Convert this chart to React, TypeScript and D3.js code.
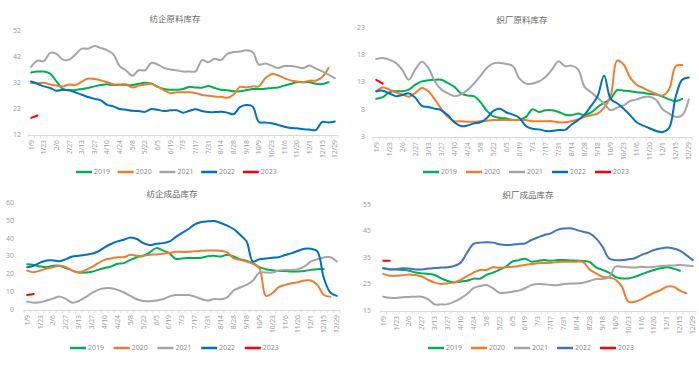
import * as d3 from 'd3';

// weekly dates (holiday weeks missing)
const cats = ["1/9","1/16","1/23","1/30","2/6","2/20","2/27","3/6","3/13","3/20","3/27","4/3","4/10","4/17","4/24","5/1","5/8","5/15","5/22","5/29","6/5","6/12","6/19","6/26","7/3","7/10","7/17","7/24","7/31","8/7","8/14","8/21","8/28","9/4","9/18","9/25","10/9","10/16","10/23","10/30","11/6","11/13","11/20","11/27","12/1","12/8","12/15","12/22","12/29"];
const years = ["2019", "2020", "2021", "2022", "2023"];

// 纺企原料库存
const p1_2019 = [36,36.4,36.4,35.6,32.6,29.7,29.2,29.3,29.7,30.1,30.7,31.2,31.5,31.2,31.3,31.2,31.2,31.7,32.1,31.7,30.5,29.7,29.4,29.4,29.7,30.5,30.3,30.2,30.8,30.1,29.4,29.2,28.8,28.8,29.2,29.7,29.7,29.8,30.1,30.3,31,31.6,32.3,32.3,32.3,31.7,31.6,32.3];
const p1_2020 = [32,31.9,32.1,31.4,31,30.7,31.4,31.2,32.5,33.7,33.5,33,32.3,31.5,31.4,31.5,30.3,31,31.4,31.7,30.5,29.2,28.1,28.4,28.4,28.4,28.1,27.4,27.1,26.8,26.7,26.3,27.6,30.5,30.3,30.7,30.7,33.8,35.4,35,33.9,33,32.6,32.3,32.9,32.9,34.3,37.8];
const p1_2021 = [38.2,40.6,40.4,43.6,43.2,41,41,43,45.2,45.2,46.2,45.5,44.6,43,38.5,36.8,34.8,36.9,36.9,39.7,39.1,37.8,37.2,36.9,36.4,36.4,36.5,40.8,40,41.3,40.8,43.2,43.9,44.1,44.6,43.9,39.1,39.5,38.7,37.8,38.5,38.5,38.2,37.7,38.7,37.5,36.5,35.2,33.9];
const p1_2022 = [32.6,31.7,30.7,30.1,29,29.4,29.2,28.4,27.5,26.6,25.9,25.3,23.6,23,22,21.7,21.3,21.2,20.9,22,21.7,21.2,21.5,21.5,20.6,21.3,21.9,21.2,20.8,20.8,20.9,20.6,20,22.7,23.5,23,17,16.8,16.5,15.9,15.2,14.7,14.6,14.2,14.1,13.9,17,16.8,17.2];
const p1_2023 = [18.6,19.5];

// 织厂原料库存
const p2_2019 = [10,10.3,11.2,11.4,11.4,11.7,12.6,13.2,13.4,13.5,13.5,12.9,12.2,11,10.6,10.5,9.4,7.8,6.8,6.5,6.4,6.1,6.2,6.7,8.1,7.6,7.9,7.9,7.6,7.1,7,7.3,7,7.5,8.5,9.3,10,11.6,11.5,11.4,11.2,11.1,10.9,10.8,10.4,9.9,9.6,10];
const p2_2020 = [11.4,12.1,11.7,11.2,10.8,10.4,11.1,12,11.4,9.9,8.1,6.7,5.9,5.9,5.8,5.8,5.9,6,6.1,6.1,6.1,6.1,6.1,6.1,5.9,5.9,5.9,5.9,5.7,5.7,5.9,6.2,6.7,7,7.3,8.4,10.5,17,16.3,13.9,12.6,12,11.4,10.9,10.6,11.8,16,16.2];
const p2_2021 = [17.3,17.5,17.2,16.6,15.3,13.5,15.4,16.8,15.7,13.2,11.7,11,10.5,10.8,11.6,12.8,14.2,15.7,16.5,16.6,16.4,16,13.7,12.8,12.8,13.2,14,15.4,16.9,16,16.1,15.4,12.2,11.2,10.2,9.1,7.9,8.4,8.8,9.6,9.9,10.3,10.4,9.8,8.1,7.3,6.7,7,9.9];
const p2_2022 = [11.4,11.5,11,10.5,10.7,11,10.2,8.7,8.5,8.2,7.9,7,5.7,5,5.1,5.5,5.7,6.5,7.8,8.2,7.5,7.1,6.5,5,4.5,4.4,4.1,4.1,4.3,4.3,5.3,6.1,7.1,8.7,10.5,14.3,10,9.2,8.2,7,5.7,5.1,4.6,4.1,3.9,4.7,10.4,13.5,13.9];
const p2_2023 = [13.5,12.8];

// 纺企成品库存
const p3_2019 = [25.7,25.3,24.4,24,24.8,24.8,23.5,22.1,21,21,21.4,22.5,23.5,24.4,25.9,26.3,28.1,29.6,30.4,32.3,34.7,33.4,31.9,28.7,28.9,29.1,29.1,29.3,30.2,30.4,30,31,30,28.5,27.6,26.3,24,22.9,22.3,21.9,21.8,21.6,21.6,21.9,22.5,22.9,22.9];
const p3_2020 = [22.1,21.2,22.1,23.3,24,24.8,24,22.1,21,22.3,24,26.3,28.1,28.9,29.6,29.6,31,30.4,30.4,31,31.1,31.5,31.9,32.6,32.6,32.6,33,33.2,33.4,33.4,33.2,32.3,29.1,28.1,27.2,25.9,23.5,7.9,9.4,12.8,14.1,15,15.6,16.5,16.5,14.1,8.4,7.5];
const p3_2021 = [4.7,4.1,4.3,5.3,6.4,7.5,6.2,4.1,5.1,7.1,9.4,11.3,12.2,12.2,11.3,9.8,7.9,6,5.1,4.9,5.3,6,7.5,8.4,8.4,8.4,7.5,6.2,5.3,6.2,6,7.1,10.9,12.6,14.1,16.5,21,21,21,22.1,22.5,22.5,22.9,24.4,27.2,28.5,29.5,29.6,27.2];
const p3_2022 = [24,24.8,26.6,27.8,27.8,27.4,28.5,30,30.4,31,31.5,32.8,35.1,37,38.5,39.4,40.7,39.8,37.5,36.4,37.1,37.5,38.3,40.9,43.2,45.4,48,49.3,49.7,49.9,48.8,47.3,45.4,42.2,38.5,27.2,28.5,28.9,29.3,29.6,30.8,31.9,33.2,34.3,34.3,32.8,17.8,9.8,7.9];
const p3_2023 = [8.4,9];

// 织厂成品库存
const p4_2019 = [31.1,30.8,30.7,30.5,30.2,29.5,29.2,29,28.6,27.3,26.3,25.8,26.1,26.4,27.2,27.2,28.6,29.5,30.5,31.7,33.6,34.2,34.7,33.6,33.9,34.2,34,34.2,34.2,34.1,34,33.9,33.5,31.5,30.5,29.5,27.9,27.3,27.3,27.9,28.8,29.7,30.5,31.1,31.5,31,30.2];
const p4_2020 = [29,28.3,28.3,28.5,28.8,28.6,28,26.7,25.7,25.2,25.4,25.8,26.7,28.2,29.5,30.5,30.5,31.5,31.3,31.5,31.7,32,32.4,32.7,33,33.1,33.2,33.5,33.6,33.6,33.6,33.5,30.7,29.2,27.9,27.7,26.9,24.2,18.5,18.5,19.4,20.7,21.9,22.9,24.2,24.2,22.7,21.7];
const p4_2021 = [20.4,20,19.9,20.2,20.3,20.4,20.4,19.4,17.5,17.5,17.6,18.5,19.8,21.4,23.6,24.4,24.8,23.6,21.9,21.9,22.3,22.7,23.6,24.8,25.2,25.1,24.8,24.7,25.2,25.4,25.4,25.7,26.3,27.1,27.1,27.7,31.7,31.7,31.5,31.4,31.7,31.5,31.7,32,32.1,32.2,32.4,32.2,32];
const p4_2022 = [31.1,30.7,30.8,31.1,31,30.7,30.7,31,31.2,31.4,31.5,32,33.2,37,40.3,40.8,40.9,40.8,40.2,39.9,40,40.3,40.5,41.8,42.8,43.7,44.3,45.6,46.1,46.2,45.6,44.9,44.3,42.4,39.3,34.9,34.2,34.2,34.5,34.9,36.1,37,38,38.6,39,38.6,37.8,36.1,34.2];
const p4_2023 = [34,34];

const colorsA = ["#00b050", "#ed7d31", "#a5a5a5", "#0070c0", "#ff0000"];
const colorsB = ["#00b050", "#ed7d31", "#a5a5a5", "#4472c4", "#ff0000"];

const FONT = '"Open Sans", "Noto Sans CJK SC", sans-serif';

const panels = [
  { title: "纺企原料库存", tx: 175, ty: 20, x0: 28, x1: 338, yTop: 31, yBot: 135, yMin: 12, yMax: 52, yStep: 10, lx: 21,
    legY: 172, legX: 76, legStep: 41.7, colors: colorsA, series: [p1_2019, p1_2020, p1_2021, p1_2022, p1_2023] },
  { title: "织厂原料库存", tx: 522, ty: 21, x0: 373, x1: 692, yTop: 28, yBot: 137, yMin: 3, yMax: 23, yStep: 5, lx: 365,
    legY: 172, legX: 423, legStep: 43, colors: colorsA, series: [p2_2019, p2_2020, p2_2021, p2_2022, p2_2023] },
  { title: "纺企成品库存", tx: 172, ty: 195, x0: 24, x1: 340, yTop: 203, yBot: 310, yMin: 0, yMax: 60, yStep: 10, lx: 14,
    legY: 348, legX: 70, legStep: 43.7, colors: colorsA, series: [p3_2019, p3_2020, p3_2021, p3_2022, p3_2023] },
  { title: "织厂成品库存", tx: 528, ty: 196, x0: 380, x1: 696, yTop: 205, yBot: 311, yMin: 15, yMax: 55, yStep: 10, lx: 371,
    legY: 348, legX: 428, legStep: 43, colors: colorsB, series: [p4_2019, p4_2020, p4_2021, p4_2022, p4_2023] },
];

function Panel({ p }: { p: any }) {
  const x = d3.scaleBand().domain(cats).range([p.x0, p.x1]).padding(0);
  const y = d3.scaleLinear().domain([p.yMin, p.yMax]).range([p.yBot, p.yTop]);
  const bw = x.bandwidth();
  const line = d3.line<number>()
    .x((d, i) => (x(cats[i]) as number) + bw / 2)
    .y(d => y(d))
    .curve(d3.curveCatmullRom.alpha(0.5));
  const yTicks = d3.range(p.yMin, p.yMax + 0.001, p.yStep);

  return (
    <g>
      <text x={p.tx} y={p.ty} textAnchor="middle" dominantBaseline="middle" fontSize={8.5} fill="#666" fontFamily={FONT}>{p.title}</text>
      {yTicks.map(t => (
        <text key={t} x={p.lx} y={y(t)} textAnchor="end" dominantBaseline="middle" fontSize={7} fill="#999" fontFamily={FONT}>{t}</text>
      ))}
      <line x1={p.x0} x2={p.x1} y1={p.yBot + 0.5} y2={p.yBot + 0.5} stroke="#d9d9d9" strokeWidth={1} />
      {d3.range(cats.length + 1).map(i => (
        <line key={i} x1={p.x0 + i * bw} x2={p.x0 + i * bw} y1={p.yBot} y2={p.yBot + 3} stroke="#d9d9d9" strokeWidth={0.8} />
      ))}
      {cats.map((c, i) => i % 2 === 0 ? (
        <text key={c} transform={`translate(${(x(c) as number) + bw / 2},${p.yBot + 5}) rotate(-90)`}
          textAnchor="end" dy="0.35em" fontSize={6.8} fill="#999" fontFamily={FONT}>{c}</text>
      ) : null)}
      {p.series.map((s: number[], k: number) => (
        <path key={k} d={line(s) || ""} fill="none" stroke={p.colors[k]} strokeWidth={2} strokeLinejoin="round" strokeLinecap="round" />
      ))}
      {years.map((yr, k) => (
        <g key={yr} transform={`translate(${p.legX + k * p.legStep},${p.legY})`}>
          <line x1={0} x2={16} y1={0} y2={0} stroke={p.colors[k]} strokeWidth={2.5} />
          <text x={18} y={0} dominantBaseline="middle" fontSize={7} fill="#888" fontFamily={FONT}>{yr}</text>
        </g>
      ))}
    </g>
  );
}

export default function App() {
  return (
    <svg width={699} height={365} style={{ position: 'absolute', left: 0, top: 0, background: '#fff' }}>
      <rect x={0} y={0} width={699} height={365} fill="#fff" />
      {panels.map((p, i) => <Panel key={i} p={p} />)}
    </svg>
  );
}
